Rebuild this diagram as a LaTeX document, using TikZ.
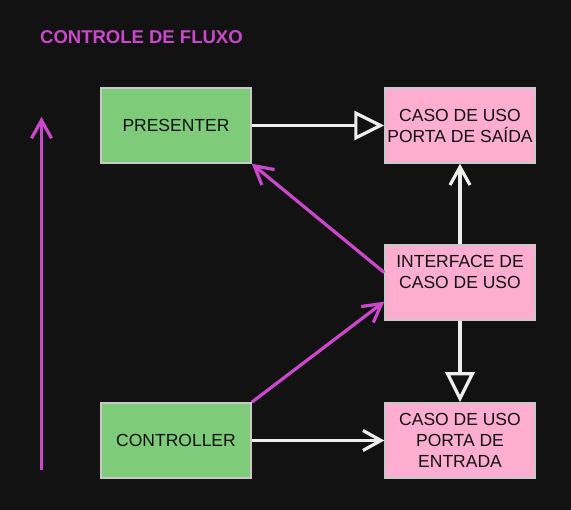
\documentclass[tikz,border=0pt]{standalone}
\usepackage{fontspec}
\setmainfont{Liberation Sans}
\usetikzlibrary{arrows.meta,calc}
\definecolor{fundo}{HTML}{121212}
\definecolor{verdecx}{HTML}{7ECB7A}
\definecolor{rosacx}{HTML}{FFADD0}
\definecolor{bordacx}{HTML}{C8C8C8}
\definecolor{textocx}{HTML}{111111}
\definecolor{brancoseta}{HTML}{EEEEEE}
\definecolor{magenta}{HTML}{CC47CC}
\begin{document}
\begin{tikzpicture}[
    x=1pt, y=-1pt,
    every node/.style={font=\fontsize{17.5}{21}\selectfont, text=textocx, align=center},
    % Caixas
    caixa/.style={draw=bordacx, line width=1.5pt, minimum width=150pt, minimum height=75pt, inner sep=0pt},
    verde/.style={caixa, fill=verdecx},
    rosa/.style={caixa, fill=rosacx},
    % Setas
    fluxo/.style={draw=brancoseta, line width=3.2pt, -{Straight Barb[length=18pt,width=20pt]}},
    heranca/.style={draw=brancoseta, line width=3.2pt, -{Triangle[length=30pt,width=29pt,fill=fundo]}},
    controle/.style={draw=magenta, line width=3.2pt, -{Straight Barb[length=18pt,width=20pt]}}
]
\fill[fundo] (0,0) rectangle (571,510);

% Titulo
\node[anchor=west, inner sep=0pt, text=magenta, font=\bfseries\fontsize{18.5}{22}\selectfont] (titulo) at (40,37) {CONTROLE DE FLUXO};

% Caixas
\node[verde] (presenter) at (176,125.5) {PRESENTER};
\node[rosa] (saida) at (460,125.5) {CASO DE USO\\PORTA DE SAÍDA};
\node[rosa] (interface) at (460,282.5) {INTERFACE DE\\CASO DE USO\\~};
\node[verde] (controller) at (176,440.5) {CONTROLLER};
\node[rosa] (entrada) at (460,440.5) {CASO DE USO\\PORTA DE\\ENTRADA};

% Setas
\draw[heranca] (presenter.east) -- (saida.west);
\draw[fluxo] (interface.north) -- (saida.south);
\draw[heranca] (interface.south) -- (entrada.north);
\draw[fluxo] (controller.east) -- (entrada.west);
\draw[controle] (controller.north east) -- ($(interface.south west)!0.25!(interface.north west)$);
\draw[controle] ($(interface.north west)!0.37!(interface.south west)$) -- (presenter.south east);

% Controle de fluxo
\coordinate (base) at (41.5,470);
\coordinate (topo) at (41.5,117);
\draw[controle] (base) -- (topo);
\end{tikzpicture}
\end{document}
